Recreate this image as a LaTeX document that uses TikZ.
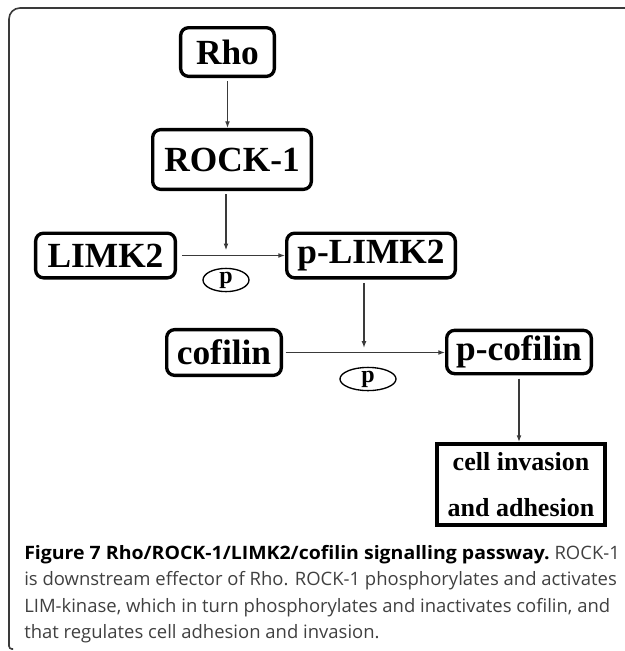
\documentclass[tikz,border=0pt]{standalone}
\usepackage{fontspec}
\usepackage{graphicx}
\usepackage{xcolor}
\usepackage{tikz}
\usetikzlibrary{shapes.geometric, arrows.meta}
\newfontfamily\boxfont{Liberation Serif}
\newfontfamily\capfont{Open Sans}
\definecolor{linegray}{HTML}{3A3A3A}
\definecolor{capgray}{HTML}{404040}

\begin{document}
\begin{tikzpicture}[x=0.75pt, y=-0.75pt, >={Latex[length=5pt,width=3.6pt]},
    box/.style={draw, line width=2.5pt, rounded corners=6pt, inner sep=0pt,
        font=\boxfont\bfseries\fontsize{26.5}{30}\selectfont},
    pbubble/.style={draw, ellipse, line width=1pt, inner sep=0pt,
        font=\boxfont\bfseries\fontsize{18}{18}\selectfont},
    arr/.style={->, line width=0.8pt, linegray},
    capline/.style={anchor=base west, inner sep=0pt, text=capgray,
        font=\capfont\fontsize{13.85}{18}\selectfont}]
    \useasboundingbox (0,0) rectangle (625,651);

    % Open frame round the figure
    \draw[linegray, line width=1.2pt] (626,8) -- (20,8)
        arc[start angle=90, end angle=180, radius=8.25pt] -- (9,646)
        arc[start angle=180, end angle=270, radius=2.25pt] -- (13,649);

    % Pathway boxes
    \node[box, minimum width=70.3pt, minimum height=36.5pt] (Rho) at (227.5,52) {Rho};
    \node[box, minimum width=119pt, minimum height=44.8pt] (ROCK) at (232,159.5) {ROCK-1};
    \node[box, minimum width=104.8pt, minimum height=33.5pt] (LIMK) at (105.5,255.5) {LIMK2};
    \node[box, minimum width=126.5pt, minimum height=33.5pt] (pLIMK) at (371,255.5) {p-LIMK2};
    \node[box, minimum width=86pt, minimum height=34.3pt] (cofilin) at (224,352.5) {cofilin};
    \node[box, minimum width=108.5pt, minimum height=32.5pt] (pcofilin) at (519,352) {p-cofilin};
    \node[draw, line width=3pt, minimum width=126pt, minimum height=60.75pt, inner sep=0pt,
        align=center, font=\boxfont\bfseries\fontsize{19.5}{35}\selectfont]
        (cell) at (521,484.5) {cell invasion\\and adhesion};

    % Phosphate tags
    \node[pbubble, minimum width=34.5pt, minimum height=16.5pt] (p1) at (226,280) {p};
    \node[pbubble, minimum width=42pt, minimum height=14pt] (p2) at (368,379) {p};

    % Points where the kinases act
    \coordinate (j1) at (226,255.5);
    \coordinate (j2) at (364,352.5);

    % Connectors
    \draw[arr, shorten <=2.5pt] (Rho.south) -- (Rho.south |- ROCK.north);
    \draw[arr, shorten <=2.5pt, shorten >=4pt] (ROCK.south -| j1) -- (j1);
    \draw[arr, shorten <=4pt] (LIMK.east) -- (LIMK.east -| pLIMK.west);
    \draw[arr, shorten <=2.5pt, shorten >=3.5pt] (pLIMK.south -| j2) -- (j2);
    \draw[arr, shorten <=2pt] (cofilin.east) -- (cofilin.east -| pcofilin.west);
    \draw[arr, shorten <=2.5pt] (pcofilin.south) -- (pcofilin.south |- cell.north);

    % Caption
    \node[capline] (cap1) at (24,559)
        {\scalebox{1.055}[1]{\bfseries\color{black}Figure 7 Rho/ROCK-1/LIMK2/cofilin signalling passway.} ROCK-1};
    \node[capline] (cap2) at (24,585.5)
        {is downstream effector of Rho. ROCK-1 phosphorylates and activates};
    \node[capline] (cap3) at (24,612)
        {LIM-kinase, which in turn phosphorylates and inactivates cofilin, and};
    \node[capline] (cap4) at (24,638.5) {that regulates cell adhesion and invasion.};
\end{tikzpicture}
\end{document}
